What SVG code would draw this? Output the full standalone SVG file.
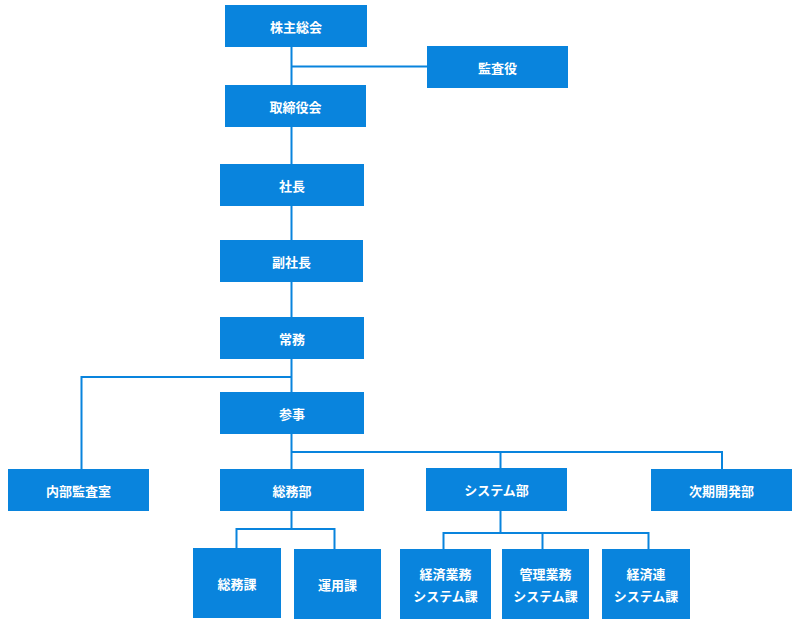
<svg xmlns="http://www.w3.org/2000/svg" width="800" height="630" viewBox="0 0 800 630">
<style>
.box{fill:#0984dd;}
.t{fill:#ffffff;font-family:"Noto Sans CJK JP","Noto Sans",sans-serif;font-size:13px;font-weight:bold;text-anchor:middle;dominant-baseline:central;}
.ln{stroke:#0984dd;stroke-width:2;fill:none;}
</style>
<rect width="800" height="630" fill="#ffffff"/>
<g id="connectors">
<path class="ln" d="M291.5 47 V392"/>
<path class="ln" d="M291.5 66.5 H427"/>
<path class="ln" d="M291.5 377 H81.5 V469"/>
<path class="ln" d="M291.5 434 V469"/>
<path class="ln" d="M291.5 452 H722 V469"/>
<path class="ln" d="M500.5 452 V468"/>
<path class="ln" d="M291.5 511 V529"/>
<path class="ln" d="M236.5 548 V529 H334.5 V549"/>
<path class="ln" d="M500.5 511 V533"/>
<path class="ln" d="M443.5 549 V533 H648.5 V549"/>
<path class="ln" d="M542.5 533 V549"/>
</g>
<g id="n1"><rect class="box" x="225" y="5" width="142" height="42"/><text class="t" x="296" y="26">株主総会</text></g>
<g id="n2"><rect class="box" x="427" y="46" width="141" height="42"/><text class="t" x="497.5" y="67">監査役</text></g>
<g id="n3"><rect class="box" x="225" y="85" width="141" height="42"/><text class="t" x="295.5" y="106">取締役会</text></g>
<g id="n4"><rect class="box" x="220" y="164" width="144" height="42"/><text class="t" x="292" y="185">社長</text></g>
<g id="n5"><rect class="box" x="220" y="240" width="143" height="42"/><text class="t" x="291.5" y="261">副社長</text></g>
<g id="n6"><rect class="box" x="220" y="317" width="144" height="42"/><text class="t" x="292" y="338">常務</text></g>
<g id="n7"><rect class="box" x="220" y="392" width="144" height="42"/><text class="t" x="292" y="413">参事</text></g>
<g id="n8"><rect class="box" x="8" y="469" width="141" height="42"/><text class="t" x="78.5" y="490">内部監査室</text></g>
<g id="n9"><rect class="box" x="220" y="469" width="144" height="42"/><text class="t" x="292" y="490">総務部</text></g>
<g id="n10"><rect class="box" x="426" y="468" width="141" height="43"/><text class="t" x="496.5" y="489.5">システム部</text></g>
<g id="n11"><rect class="box" x="651" y="469" width="141" height="42"/><text class="t" x="721.5" y="490">次期開発部</text></g>
<g id="n12"><rect class="box" x="193" y="548" width="88" height="70"/><text class="t" x="237" y="583">総務課</text></g>
<g id="n13"><rect class="box" x="294" y="549" width="87" height="70"/><text class="t" x="337.5" y="584">運用課</text></g>
<g id="n14"><rect class="box" x="400" y="549" width="91" height="70"/><text class="t" x="445.5" y="573">経済業務</text><text class="t" x="445.5" y="595">システム課</text></g>
<g id="n15"><rect class="box" x="502" y="549" width="87" height="70"/><text class="t" x="545.5" y="573">管理業務</text><text class="t" x="545.5" y="595">システム課</text></g>
<g id="n16"><rect class="box" x="602" y="549" width="88" height="70"/><text class="t" x="646" y="573">経済連</text><text class="t" x="646" y="595">システム課</text></g>
</svg>
